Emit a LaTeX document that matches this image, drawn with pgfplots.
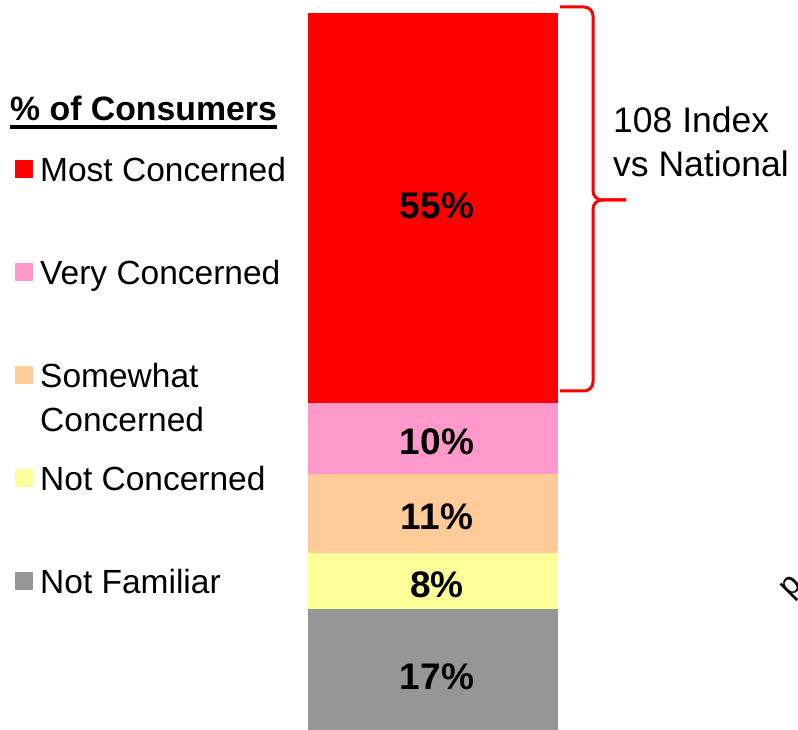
\documentclass[border=0pt]{standalone}
\usepackage{pgfplots}
\pgfplotsset{compat=1.18}
\usepackage{fontspec}
\setmainfont{Liberation Sans}
\definecolor{cRed}{HTML}{FF0000}
\definecolor{cPink}{HTML}{FF99CC}
\definecolor{cPeach}{HTML}{FFCC99}
\definecolor{cYellow}{HTML}{FFFF99}
\definecolor{cGray}{HTML}{969696}
\pgfplotsset{sqlegend/.style={legend image code/.code={\fill[##1] (0bp,3.5bp) rectangle (18bp,21.5bp);}}}
\newcommand{\twoline}{\vtop{\hbox{Somewhat}\hbox{Concerned}}}
\tikzset{barlbl/.style={font=\bfseries\fontsize{37bp}{44bp}\selectfont, inner sep=0pt, text=black, xshift=4bp}}
\begin{document}
\begin{tikzpicture}
\useasboundingbox (0bp,0bp) rectangle (798bp,730bp);
\begin{axis}[
  at={(308bp,0bp)}, anchor=south west,
  scale only axis, width=250bp, height=717bp,
  xmin=-0.5, xmax=0.5, ymin=0, ymax=101,
  hide axis, ybar stacked, bar width=250bp,
  clip=false,
  reverse legend,
  legend style={at={(axis description cs:-1.172,0.8006)}, anchor=north west,
    draw=none, fill=none, inner sep=0pt, row sep=0pt, column sep=7bp,
    cells={anchor=base west},
    nodes={inner sep=0pt, text height=25bp, text depth=78bp},
    font=\fontsize{33.5bp}{44bp}\selectfont},
]
\addplot[fill=cGray, draw=none, sqlegend] coordinates {(0,17)};
\addplot[fill=cYellow, draw=none, sqlegend] coordinates {(0,8)};
\addplot[fill=cPeach, draw=none, sqlegend] coordinates {(0,11)};
\addplot[fill=cPink, draw=none, sqlegend] coordinates {(0,10)};
\addplot[fill=cRed, draw=none, sqlegend] coordinates {(0,55)};
\legend{Not Familiar, Not Concerned, \twoline, Very Concerned, Most Concerned}
\coordinate (l55) at (axis cs:0,73.9);
\coordinate (l10) at (axis cs:0,40.6);
\coordinate (l11) at (axis cs:0,30.0);
\coordinate (l8) at (axis cs:0,20.4);
\coordinate (l17) at (axis cs:0,7.5);
\end{axis}
\node[barlbl] at (l55) {55\%};
\node[barlbl] at (l10) {10\%};
\node[barlbl] at (l11) {11\%};
\node[barlbl] at (l8) {8\%};
\node[barlbl] at (l17) {17\%};
% heading
\node[anchor=base west, inner sep=0pt, font=\bfseries\fontsize{33.8bp}{40bp}\selectfont] at (10bp,609bp) {\% of Consumers};
\draw[line width=4bp] (10bp,603bp) -- (277bp,603bp);
% brace
\draw[cRed, line width=3bp, rounded corners=9bp] (560bp,723bp) -- (593bp,723bp) -- (593bp,530bp) -- (626bp,530bp);
\draw[cRed, line width=3bp, rounded corners=9bp] (626bp,530bp) -- (593bp,530bp) -- (593bp,339bp) -- (560bp,339bp);
\node[anchor=base west, inner sep=0pt, align=left, font=\fontsize{35.5bp}{44bp}\selectfont] at (613bp,553bp) {108 Index\\vs National};
\node[rotate=45, inner sep=0pt, font=\fontsize{32bp}{36bp}\selectfont] at (793bp,142bp) {p};
\end{tikzpicture}
\end{document}
